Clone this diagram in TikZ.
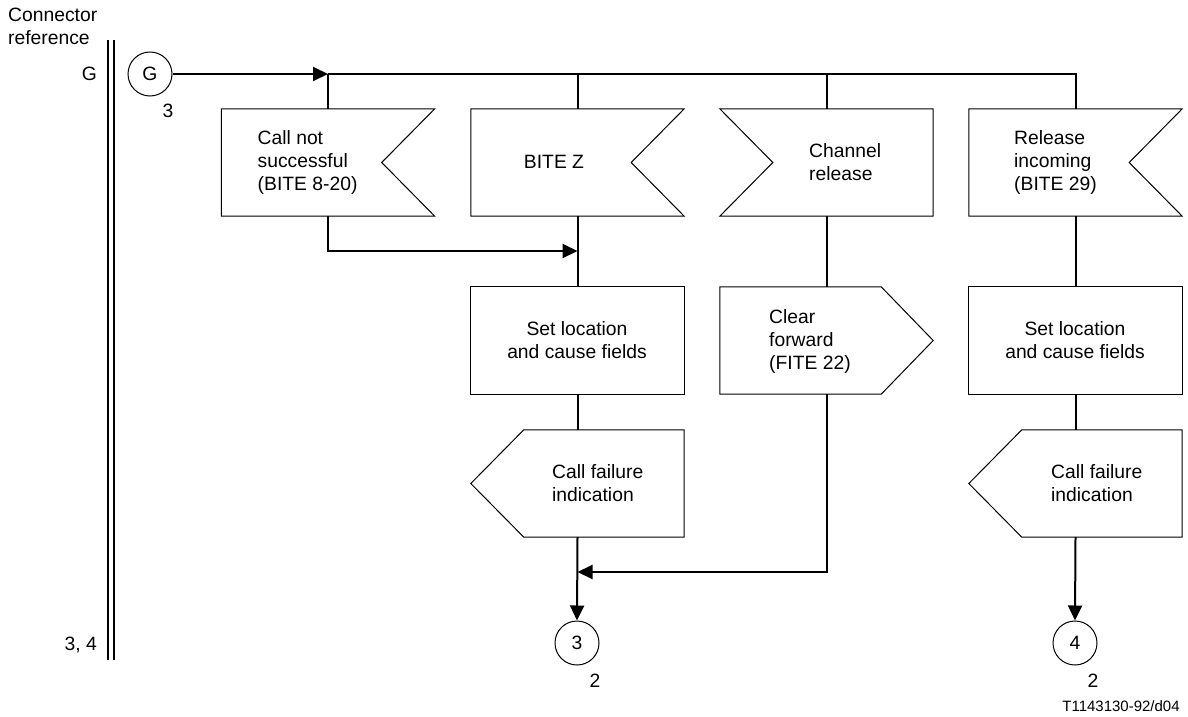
\documentclass[tikz,border=0pt]{standalone}
\usepackage{fontspec}
\setmainfont{Liberation Sans}
\usetikzlibrary{arrows.meta}
\begin{document}
\begin{tikzpicture}[x=1pt,y=-1pt,
  every node/.style={font=\fontsize{19.3}{23}\selectfont, inner sep=0pt},
  shapebox/.style={rectangle, minimum width=213pt, minimum height=107pt, draw=none},
  outline/.style={draw=black, line width=1pt, line join=miter},
  flow/.style={draw=black, line width=2pt},
  arr/.style={flow, -{Triangle[length=15pt,width=14pt]}},
  conncirc/.style={circle, draw, line width=1pt, minimum size=44pt},
  txt/.style={align=left, anchor=west},
  ctxt/.style={align=center},
  small/.style={font=\fontsize{15}{18}\selectfont}
]
\useasboundingbox (0,0) rectangle (1188,717);

% connector reference column
\node[anchor=north west, align=left] (cref) at (8,8) {Connector\\reference};
\draw[line width=2pt] (107.5,40) -- (107.5,660);
\draw[line width=2pt] (114,40) -- (114,660);
\node[anchor=base east] (lg) at (97,81) {G};
\node[anchor=base east] (l34) at (97,650) {3, 4};

% entry connector
\node[conncirc] (cG) at (150,74) {G};
\node[anchor=base] (nG) at (168,117) {3};

% row 1: inputs
\node[shapebox] (b1) at (328,162.5) {};
\node[shapebox] (b2) at (577.5,162.5) {};
\node[shapebox] (b3) at (826.5,162.5) {};
\node[shapebox] (b4) at (1075.5,162.5) {};
\draw[outline] (b1.north west) -- (b1.north east) -- ([xshift=-53pt]b1.east) -- (b1.south east) -- (b1.south west) -- cycle;
\draw[outline] (b2.north west) -- (b2.north east) -- ([xshift=-53pt]b2.east) -- (b2.south east) -- (b2.south west) -- cycle;
\draw[outline] (b3.north west) -- (b3.north east) -- (b3.south east) -- (b3.south west) -- ([xshift=53pt]b3.west) -- cycle;
\draw[outline] (b4.north west) -- (b4.north east) -- ([xshift=-53pt]b4.east) -- (b4.south east) -- (b4.south west) -- cycle;
\node[txt] (t1) at (257.5,163) {Call not\\successful\\(BITE 8-20)};
\node (t2) at (554,162) {BITE Z};
\node[txt] (t3) at (809,162) {Channel\\release};
\node[txt] (t4) at (1014,163) {Release\\incoming\\(BITE 29)};

% row 2
\node[shapebox] (s2) at (577.5,340.5) {};
\node[shapebox] (o3) at (826.5,340.5) {};
\node[shapebox] (s4) at (1075.5,340.5) {};
\draw[outline] (s2.north west) rectangle (s2.south east);
\draw[outline] (s4.north west) rectangle (s4.south east);
\draw[outline] (o3.north west) -- ([xshift=-52pt]o3.north east) -- (o3.east) -- ([xshift=-52pt]o3.south east) -- (o3.south west) -- cycle;
\node[ctxt] (ts2) at (577,340) {Set location\\and cause fields};
\node[ctxt] (ts4) at (1075,340) {Set location\\and cause fields};
\node[txt] (to3) at (769,342) {Clear\\forward\\(FITE 22)};

% row 3: outputs
\node[shapebox] (f2) at (577.5,483.5) {};
\node[shapebox] (f4) at (1075.5,483.5) {};
\draw[outline] ([xshift=53pt]f2.north west) -- (f2.north east) -- (f2.south east) -- ([xshift=53pt]f2.south west) -- (f2.west) -- cycle;
\draw[outline] ([xshift=53pt]f4.north west) -- (f4.north east) -- (f4.south east) -- ([xshift=53pt]f4.south west) -- (f4.west) -- cycle;
\node[txt] (tf2) at (552,483) {Call failure\\indication};
\node[txt] (tf4) at (1051,483) {Call failure\\indication};

% exit connectors
\node[conncirc] (c3) at (577,643) {3};
\node[conncirc] (c4) at (1075,643) {4};
\node[anchor=base] (n3) at (595,687) {2};
\node[anchor=base] (n4) at (1093,687) {2};
\node[small, anchor=base] (ref) at (1121,711) {T1143130-92/d04};

% junction points
\coordinate (j1) at (328,74);
\coordinate (j2) at (577.5,74);
\coordinate (j3) at (826.5,74);
\coordinate (j4) at (1075.5,74);
\coordinate (ja) at (328,251);
\coordinate (jd) at (577.5,251);
\coordinate (jc) at (826.5,572);
\coordinate (jb) at (577.5,572);

% flow lines
\draw[arr] (cG.east) -- (j1);
\draw[flow] (j1) -- (j4) -- (b4.north);
\draw[flow] (j1) -- (b1.north);
\draw[flow] (j2) -- (b2.north);
\draw[flow] (j3) -- (b3.north);
\draw[arr] (b1.south) -- (ja) -- (jd);
\draw[flow] (b2.south) -- (s2.north);
\draw[flow] (s2.south) -- (f2.north);
\draw[arr] (f2.south) -- (c3.north);
\draw[flow] (b3.south) -- (o3.north);
\draw[arr] (o3.south) -- (jc) -- (jb);
\draw[flow] (b4.south) -- (s4.north);
\draw[flow] (s4.south) -- (f4.north);
\draw[arr] (f4.south) -- (c4.north);
\end{tikzpicture}
\end{document}
